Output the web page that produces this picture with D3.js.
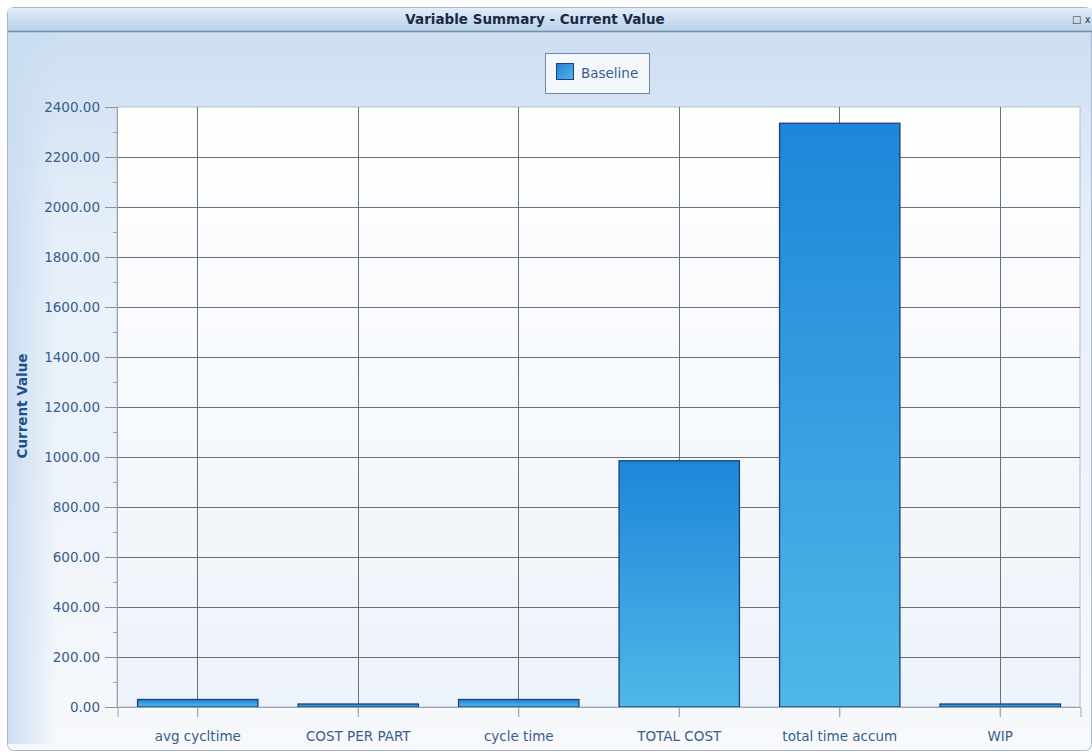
<!DOCTYPE html>
<html><head><meta charset="utf-8">
<script src="https://cdn.jsdelivr.net/npm/d3@7"></script>
<style>html,body{margin:0;padding:0;background:#fff;}svg{display:block;}</style>
</head><body>
<script>
const categories = ["avg cycltime", "COST PER PART", "cycle time", "TOTAL COST", "total time accum", "WIP"];
const baselineValues = [30, 12, 30, 985, 2335, 12];
const yTicks = [0, 200, 400, 600, 800, 1000, 1200, 1400, 1600, 1800, 2000, 2200, 2400];
const seriesName = "Baseline";
const chartTitle = "Variable Summary - Current Value";
const yTitle = "Current Value";

const W = 1092, H = 752;
const FONT = "DejaVu Sans, Verdana, sans-serif";
const svg = d3.select("body").append("svg").attr("width", W).attr("height", H);
const defs = svg.append("defs");

const bgGrad = defs.append("linearGradient").attr("id","bg").attr("x1",0).attr("y1",0).attr("x2",0).attr("y2",1);
bgGrad.append("stop").attr("offset","0").attr("stop-color","#c9dcf1");
bgGrad.append("stop").attr("offset","0.3").attr("stop-color","#e6eff9");
bgGrad.append("stop").attr("offset","1").attr("stop-color","#f7f9fc");

const sideGrad = defs.append("linearGradient").attr("id","side").attr("x1",0).attr("y1",0).attr("x2",1).attr("y2",0);
sideGrad.append("stop").attr("offset","0").attr("stop-color","#c9dcf1").attr("stop-opacity",0.9);
sideGrad.append("stop").attr("offset","1").attr("stop-color","#c9dcf1").attr("stop-opacity",0);

const titleGrad = defs.append("linearGradient").attr("id","tg").attr("x1",0).attr("y1",0).attr("x2",0).attr("y2",1);
titleGrad.append("stop").attr("offset","0").attr("stop-color","#e2edf9");
titleGrad.append("stop").attr("offset","1").attr("stop-color","#b9d0ea");

const plotGrad = defs.append("linearGradient").attr("id","pg").attr("x1",0).attr("y1",0).attr("x2",0).attr("y2",1);
plotGrad.append("stop").attr("offset","0").attr("stop-color","#ffffff");
plotGrad.append("stop").attr("offset","1").attr("stop-color","#edf3fa");

const barGrad = defs.append("linearGradient").attr("id","bar").attr("x1",0).attr("y1",0).attr("x2",0).attr("y2",1);
barGrad.append("stop").attr("offset","0").attr("stop-color","#1d86d9");
barGrad.append("stop").attr("offset","1").attr("stop-color","#4fb8e8");

const swGrad = defs.append("linearGradient").attr("id","sw").attr("x1",0).attr("y1",0).attr("x2",1).attr("y2",1);
swGrad.append("stop").attr("offset","0").attr("stop-color","#1f7fd6");
swGrad.append("stop").attr("offset","1").attr("stop-color","#58b6ea");

// window frame
svg.append("rect").attr("x",7.5).attr("y",7.5).attr("width",W-8).attr("height",H-9).attr("rx",6)
  .attr("fill","url(#bg)").attr("stroke","#a9b8cc");
svg.append("rect").attr("x",8).attr("y",32).attr("width",50).attr("height",H-40).attr("fill","url(#side)");
svg.append("rect").attr("x",8).attr("y",8).attr("width",W-8).attr("height",23).attr("fill","url(#tg)");
svg.append("line").attr("x1",8).attr("x2",W).attr("y1",31.5).attr("y2",31.5).attr("stroke","#7a8ea9").attr("stroke-width",1.5);
svg.append("text").attr("x",535).attr("y",24).attr("text-anchor","middle")
  .attr("font-family",FONT).attr("font-weight","bold")
  .attr("font-size",13.5).attr("fill","#1b2a44").text(chartTitle);
svg.append("text").attr("x",1072).attr("y",23).attr("font-family",FONT)
  .attr("font-size",10).attr("fill","#333").text("\u25A1 x");

const m = {left:117, right:1080, top:107, bottom:707};
const x = d3.scaleBand().domain(categories).range([m.left, m.right]).paddingInner(0.25).paddingOuter(0.125);
const y = d3.scaleLinear().domain([0, 2400]).range([m.bottom, m.top]);

// plot background
svg.append("rect").attr("x",m.left).attr("y",m.top).attr("width",m.right-m.left).attr("height",m.bottom-m.top)
  .attr("fill","url(#pg)").attr("stroke","#b4bcc8");

// gridlines
svg.append("g").selectAll("line").data(yTicks.filter(d=>d>0 && d<2400)).join("line")
  .attr("x1",m.left).attr("x2",m.right).attr("y1",d=>Math.round(y(d))+0.5).attr("y2",d=>Math.round(y(d))+0.5)
  .attr("stroke","#6a6f78").attr("stroke-width",1);
svg.append("g").selectAll("line").data(categories).join("line")
  .attr("x1",d=>Math.round(x(d)+x.bandwidth()/2)+0.5).attr("x2",d=>Math.round(x(d)+x.bandwidth()/2)+0.5)
  .attr("y1",m.top).attr("y2",m.bottom)
  .attr("stroke","#6a6f78").attr("stroke-width",1);

// bars
svg.append("g").selectAll("rect").data(categories.map((c,i)=>({c, v:baselineValues[i]}))).join("rect")
  .attr("x",d=>x(d.c)+0.5).attr("width",x.bandwidth())
  .attr("y",d=>y(d.v)).attr("height",d=>y(0)-y(d.v))
  .attr("fill","url(#bar)").attr("stroke","#1d3f7c").attr("stroke-width",1.3);

// y axis
const yAxis = d3.axisLeft(y).tickValues(yTicks).tickFormat(d=>d.toFixed(2)).tickSize(12).tickPadding(5);
const ya = svg.append("g").attr("transform",`translate(${m.left},0)`).call(yAxis);
ya.select(".domain").attr("stroke","#9aa3b0");
ya.selectAll(".tick line").attr("stroke","#8a929e");
ya.selectAll("text").attr("font-family",FONT).attr("font-size",13.5).attr("fill","#3a5d8c");
// minor ticks
const minor = d3.range(100, 2400, 200);
svg.append("g").selectAll("line").data(minor).join("line")
  .attr("x1",m.left-4).attr("x2",m.left).attr("y1",d=>Math.round(y(d))+0.5).attr("y2",d=>Math.round(y(d))+0.5)
  .attr("stroke","#9aa3b0");

// x axis
const xAxis = d3.axisBottom(x).tickSize(10).tickPadding(14);
const xa = svg.append("g").attr("transform",`translate(0.5,${m.bottom})`).call(xAxis);
xa.select(".domain").attr("stroke","#9aa3b0");
xa.selectAll(".tick line").attr("stroke","#8a929e");
xa.selectAll("text").attr("font-family",FONT).attr("font-size",13.5).attr("fill","#3a5d8c");

// y title
svg.append("text").attr("transform","translate(27,406) rotate(-90)").attr("text-anchor","middle")
  .attr("font-family",FONT).attr("font-weight","bold")
  .attr("font-size",13.5).attr("fill","#1f4e8c").text(yTitle);

// legend
const lg = svg.append("g");
lg.append("rect").attr("x",545.5).attr("y",53.5).attr("width",104).attr("height",40)
  .attr("fill","#f4f8fc").attr("stroke","#6e87a8");
lg.append("rect").attr("x",556.5).attr("y",63.5).attr("width",17).attr("height",16)
  .attr("fill","url(#sw)").attr("stroke","#1d3f7c");
lg.append("text").attr("x",581).attr("y",78).attr("font-family",FONT)
  .attr("font-size",13.5).attr("fill","#3a5d8c").text(seriesName);
</script>
</body></html>
